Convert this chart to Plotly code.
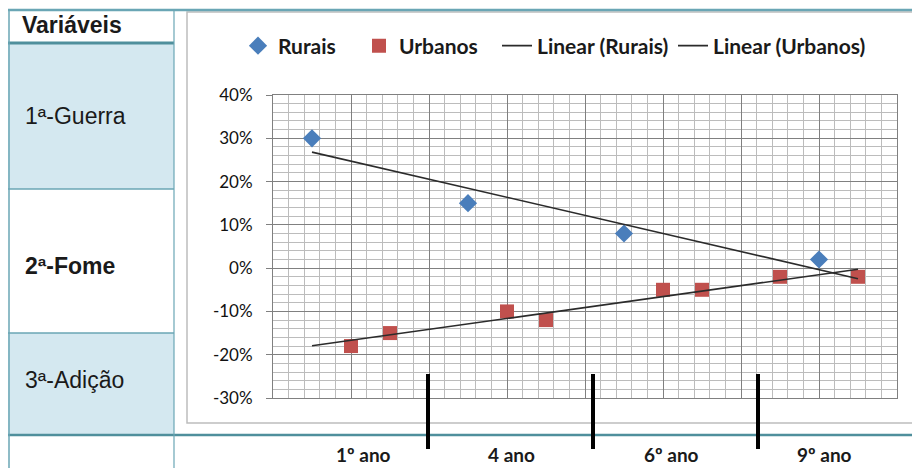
import numpy as np
import plotly.graph_objects as go

# ---- data ----
rurais_x = [1, 5, 9, 14]
rurais_y = [0.30, 0.15, 0.08, 0.02]
urbanos_x = [2, 3, 6, 7, 10, 11, 13, 15]
urbanos_y = [-0.18, -0.15, -0.10, -0.12, -0.05, -0.05, -0.02, -0.02]
variaveis = ["1ª-Guerra", "2ª-Fome", "3ª-Adição"]
periodos = ["1º ano", "4 ano", "6º ano", "9º ano"]
y_ticks = [-0.3, -0.2, -0.1, 0.0, 0.1, 0.2, 0.3, 0.4]
y_tick_labels = ["-30%", "-20%", "-10%", "0%", "10%", "20%", "30%", "40%"]

W, H = 920, 468
OFF = 8  # page body margin offset

def px(x):
    return (x - OFF) / W

def py(y):
    return 1 - (y - OFF) / H

# linear trendlines (least squares) over the shared x span
trend_x = [min(rurais_x + urbanos_x), max(rurais_x + urbanos_x)]
pr = np.polyfit(rurais_x, rurais_y, 1)
pu = np.polyfit(urbanos_x, urbanos_y, 1)
tr_r = np.polyval(pr, trend_x)
tr_u = np.polyval(pu, trend_x)

fig = go.Figure()
fig.add_trace(go.Scatter(x=rurais_x, y=rurais_y, mode="markers", name="Rurais", legend="legend",
                         marker=dict(symbol="diamond", size=14, color="#4a7ebb")))
fig.add_trace(go.Scatter(x=urbanos_x, y=urbanos_y, mode="markers", name="Urbanos", legend="legend2",
                         marker=dict(symbol="square", size=14, color="#c0504d")))
fig.add_trace(go.Scatter(x=trend_x, y=tr_r, mode="lines", name="Linear (Rurais)", legend="legend3",
                         line=dict(color="#2b2b2b", width=1.6)))
fig.add_trace(go.Scatter(x=trend_x, y=tr_u, mode="lines", name="Linear (Urbanos)", legend="legend4",
                         line=dict(color="#2b2b2b", width=1.6)))

line_teal = "#6aa6b5"
fill_blue = "#d4e8f0"
shapes = []
shapes.append(dict(type="rect", xref="paper", yref="paper", x0=px(8), x1=px(174), y0=py(189), y1=py(43),
                   fillcolor=fill_blue, line=dict(width=0), layer="below"))
shapes.append(dict(type="rect", xref="paper", yref="paper", x0=px(8), x1=px(174), y0=py(435), y1=py(333),
                   fillcolor=fill_blue, line=dict(width=0), layer="below"))
shapes.append(dict(type="rect", xref="paper", yref="paper", x0=px(187), x1=px(915), y0=py(423), y1=py(12),
                   fillcolor="white", line=dict(color="#bdbdbd", width=1.5), layer="below"))
shapes.append(dict(type="line", xref="paper", yref="paper", x0=px(8), x1=px(930), y0=py(10), y1=py(10),
                   line=dict(color=line_teal, width=2.5)))
shapes.append(dict(type="line", xref="paper", yref="paper", x0=px(8), x1=px(174), y0=py(43), y1=py(43),
                   line=dict(color="#4f8f9c", width=3)))
shapes.append(dict(type="line", xref="paper", yref="paper", x0=px(8), x1=px(174), y0=py(189), y1=py(189),
                   line=dict(color=line_teal, width=1.5)))
shapes.append(dict(type="line", xref="paper", yref="paper", x0=px(8), x1=px(174), y0=py(333), y1=py(333),
                   line=dict(color=line_teal, width=1.5)))
shapes.append(dict(type="line", xref="paper", yref="paper", x0=px(8), x1=px(930), y0=py(435), y1=py(435),
                   line=dict(color="#4f8f9c", width=2.5)))
shapes.append(dict(type="line", xref="paper", yref="paper", x0=px(9), x1=px(9), y0=py(10), y1=py(476),
                   line=dict(color=line_teal, width=1.5)))
shapes.append(dict(type="line", xref="paper", yref="paper", x0=px(174), x1=px(174), y0=py(10), y1=py(476),
                   line=dict(color=line_teal, width=1.2)))
for sx in [428, 593, 758]:
    shapes.append(dict(type="line", xref="paper", yref="paper", x0=px(sx), x1=px(sx), y0=py(374), y1=py(449),
                       line=dict(color="black", width=4)))

annotations = []
annotations.append(dict(text="<b>Variáveis</b>", x=px(20), y=py(25), xref="paper", yref="paper",
                        xanchor="left", yanchor="middle", showarrow=False,
                        font=dict(family="Liberation Sans, Arial", size=23, color="#1a1a1a")))
row_y = [116, 266, 380]
for i, (lab, ry) in enumerate(zip(variaveis, row_y)):
    txt = f"<b>{lab}</b>" if i == 1 else lab
    annotations.append(dict(text=txt, x=px(23), y=py(ry), xref="paper", yref="paper",
                            xanchor="left", yanchor="middle", showarrow=False,
                            font=dict(family="Liberation Sans, Arial", size=23, color="#1a1a1a")))
lab_x = [363, 512, 671, 824]
for lab, lx in zip(periodos, lab_x):
    annotations.append(dict(text=f"<b>{lab}</b>", x=px(lx), y=py(454), xref="paper", yref="paper",
                            xanchor="center", yanchor="middle", showarrow=False,
                            font=dict(family="Lato, Liberation Sans", size=19, color="#1a1a1a")))

legend_font = dict(family="Lato, Liberation Sans", size=21, color="#1a1a1a", weight="bold")
def leg(xs):
    return dict(orientation="h", x=px(xs), y=py(46), xanchor="left", yanchor="middle",
                font=legend_font, bgcolor="rgba(0,0,0,0)", itemwidth=30)

fig.update_layout(
    width=W, height=H,
    margin=dict(l=0, r=0, t=0, b=0, autoexpand=False),
    paper_bgcolor="white", plot_bgcolor="white",
    showlegend=True,
    legend=leg(238), legend2=leg(359), legend3=leg(497), legend4=leg(673),
    shapes=shapes,
    annotations=annotations,
    xaxis=dict(domain=[px(273), px(897)], range=[0, 16], dtick=2, tick0=0, automargin=False,
               showticklabels=False, showgrid=True, gridcolor="#808080", gridwidth=1,
               zeroline=False, showline=True, linecolor="#808080", mirror=True,
               minor=dict(dtick=0.4, tick0=0, showgrid=True, gridcolor="#bcbcbc", gridwidth=1),
               fixedrange=True),
    yaxis=dict(domain=[py(398), py(95)], range=[-0.3, 0.4], tickvals=y_ticks, ticktext=y_tick_labels,
               automargin=False,
               showgrid=True, gridcolor="#808080", gridwidth=1, zeroline=False,
               showline=True, linecolor="#808080", mirror=True,
               ticks="outside", ticklen=6, tickcolor="#808080", ticklabelstandoff=10,
               tickfont=dict(family="Lato, Liberation Sans", size=17, color="#111111"),
               minor=dict(dtick=0.02, tick0=0, showgrid=True, gridcolor="#bcbcbc", gridwidth=1),
               fixedrange=True),
)

fig.write_html("out.html")
